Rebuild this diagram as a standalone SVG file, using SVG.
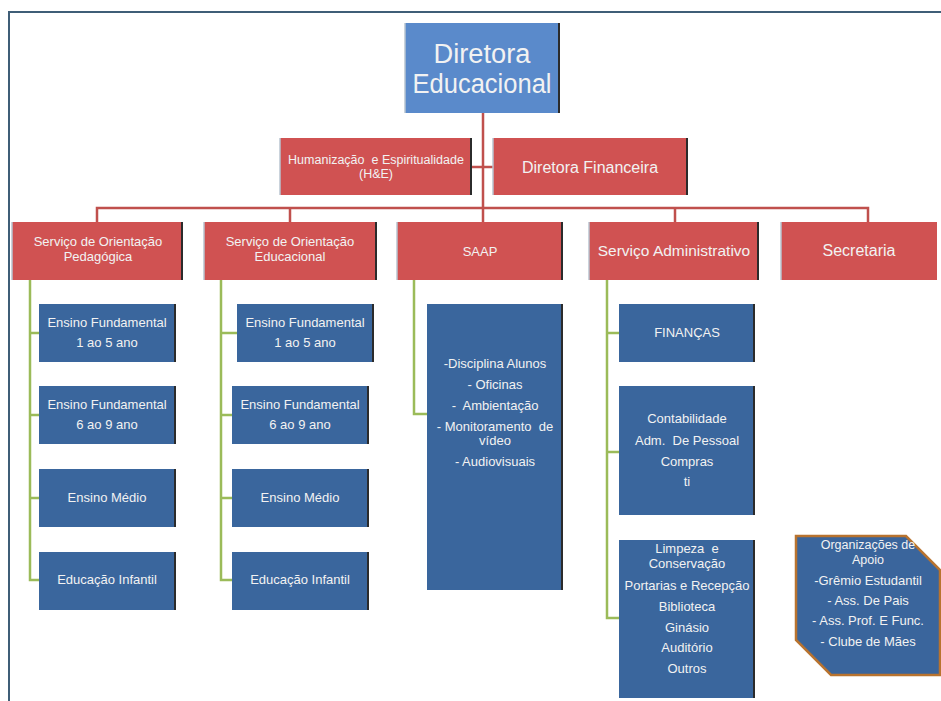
<svg xmlns="http://www.w3.org/2000/svg" width="941" height="701" viewBox="0 0 941 701">
  <style>
    .t { font-family: "Liberation Sans", Arial, sans-serif; fill: #f2f2f2; text-anchor: middle; }
    .top { fill: #5a8acb; }
    .red { fill: #d05252; }
    .blue { fill: #3a669d; }
    .edge { stroke: #2b2b2b; stroke-width: 2; }
    .ledge { stroke: #b8c4d0; stroke-width: 1.5; }
    .cr { fill: none; stroke: #c0504d; stroke-width: 2.5; }
    .cg { fill: none; stroke: #9bbb59; stroke-width: 2.5; }
  </style>

  <!-- page frame -->
  <path d="M9 701 V12 H941" fill="none" stroke="#3f5e77" stroke-width="2"/>

  <!-- connectors -->
  <g id="connectors">
    <path class="cr" d="M483 113 V208 M472 167 H493 M97 222 V208 H868 V222 M290 208 V222 M483 208 V222 M675 208 V222"/>
    <path class="cg" d="M30 280 V580 H39 M30 333 H39 M30 415 H39 M30 498 H39"/>
    <path class="cg" d="M221 280 V580 H232 M221 333 H237 M221 415 H232 M221 498 H232"/>
    <path class="cg" d="M414 280 V414 H427"/>
    <path class="cg" d="M607 280 V618 H619 M607 333 H619 M607 452 H619"/>
  </g>

  <!-- top level -->
  <g id="diretora-educacional">
    <rect class="top" x="405" y="23" width="155" height="90"/>
    <line class="ledge" x1="405" y1="23" x2="405" y2="113"/>
    <line class="edge" x1="559" y1="23" x2="559" y2="113"/>
    <text class="t" x="482" y="63" font-size="27" textLength="97" lengthAdjust="spacingAndGlyphs">Diretora</text>
    <text class="t" x="482" y="93" font-size="27" textLength="139" lengthAdjust="spacingAndGlyphs">Educacional</text>
  </g>

  <!-- second level -->
  <g id="humanizacao">
    <rect class="red" x="280" y="138" width="192" height="57"/>
    <line class="ledge" x1="280" y1="138" x2="280" y2="195"/>
    <line class="edge" x1="471" y1="138" x2="471" y2="195"/>
    <text class="t" x="376" y="164" font-size="12.5" xml:space="preserve">Humanização  e Espiritualidade</text>
    <text class="t" x="376" y="178" font-size="12.5">(H&amp;E)</text>
  </g>
  <g id="diretora-financeira">
    <rect class="red" x="493" y="138" width="195" height="57"/>
    <line class="ledge" x1="493" y1="138" x2="493" y2="195"/>
    <line class="edge" x1="687" y1="138" x2="687" y2="195"/>
    <text class="t" x="590" y="173" font-size="16">Diretora Financeira</text>
  </g>

  <!-- departments -->
  <g id="orientacao-pedagogica">
    <rect class="red" x="12" y="222" width="171" height="58"/>
    <line class="ledge" x1="12" y1="222" x2="12" y2="280"/>
    <line class="edge" x1="182" y1="222" x2="182" y2="280"/>
    <text class="t" x="98" y="246" font-size="13">Serviço de Orientação</text>
    <text class="t" x="98" y="261" font-size="13">Pedagógica</text>
  </g>
  <g id="orientacao-educacional">
    <rect class="red" x="204" y="222" width="173" height="58"/>
    <line class="ledge" x1="204" y1="222" x2="204" y2="280"/>
    <line class="edge" x1="376" y1="222" x2="376" y2="280"/>
    <text class="t" x="290" y="246" font-size="13">Serviço de Orientação</text>
    <text class="t" x="290" y="261" font-size="13">Educacional</text>
  </g>
  <g id="saap">
    <rect class="red" x="397" y="222" width="166" height="58"/>
    <line class="ledge" x1="397" y1="222" x2="397" y2="280"/>
    <line class="edge" x1="562" y1="222" x2="562" y2="280"/>
    <text class="t" x="480" y="256" font-size="13">SAAP</text>
  </g>
  <g id="servico-administrativo">
    <rect class="red" x="589" y="222" width="170" height="58"/>
    <line class="ledge" x1="589" y1="222" x2="589" y2="280"/>
    <line class="edge" x1="758" y1="222" x2="758" y2="280"/>
    <text class="t" x="674" y="256" font-size="15.5">Serviço Administrativo</text>
  </g>
  <g id="secretaria">
    <rect class="red" x="781" y="222" width="156" height="58"/>
    <line class="ledge" x1="781" y1="222" x2="781" y2="280"/>
    <text class="t" x="859" y="256" font-size="16">Secretaria</text>
  </g>

  <!-- Serviço de Orientação Pedagógica: units -->
  <g id="sop-ef1">
    <rect class="blue" x="39" y="304" width="137" height="58"/>
    <line class="edge" x1="175" y1="304" x2="175" y2="362"/>
    <text class="t" x="107" y="327" font-size="13">Ensino Fundamental</text>
    <text class="t" x="107" y="347" font-size="13">1 ao 5 ano</text>
  </g>
  <g id="sop-ef2">
    <rect class="blue" x="39" y="386" width="137" height="58"/>
    <line class="edge" x1="175" y1="386" x2="175" y2="444"/>
    <text class="t" x="107" y="409" font-size="13">Ensino Fundamental</text>
    <text class="t" x="107" y="429" font-size="13">6 ao 9 ano</text>
  </g>
  <g id="sop-em">
    <rect class="blue" x="39" y="469" width="137" height="58"/>
    <line class="edge" x1="175" y1="469" x2="175" y2="527"/>
    <text class="t" x="107" y="502" font-size="13">Ensino Médio</text>
  </g>
  <g id="sop-ei">
    <rect class="blue" x="39" y="552" width="137" height="58"/>
    <line class="edge" x1="175" y1="552" x2="175" y2="610"/>
    <text class="t" x="107" y="584" font-size="13">Educação Infantil</text>
  </g>

  <!-- Serviço de Orientação Educacional: units -->
  <g id="soe-ef1">
    <rect class="blue" x="237" y="304" width="137" height="58"/>
    <line class="edge" x1="373" y1="304" x2="373" y2="362"/>
    <text class="t" x="305" y="327" font-size="13">Ensino Fundamental</text>
    <text class="t" x="305" y="347" font-size="13">1 ao 5 ano</text>
  </g>
  <g id="soe-ef2">
    <rect class="blue" x="232" y="386" width="137" height="58"/>
    <line class="edge" x1="368" y1="386" x2="368" y2="444"/>
    <text class="t" x="300" y="409" font-size="13">Ensino Fundamental</text>
    <text class="t" x="300" y="429" font-size="13">6 ao 9 ano</text>
  </g>
  <g id="soe-em">
    <rect class="blue" x="232" y="469" width="137" height="58"/>
    <line class="edge" x1="368" y1="469" x2="368" y2="527"/>
    <text class="t" x="300" y="502" font-size="13">Ensino Médio</text>
  </g>
  <g id="soe-ei">
    <rect class="blue" x="232" y="552" width="137" height="58"/>
    <line class="edge" x1="368" y1="552" x2="368" y2="610"/>
    <text class="t" x="300" y="584" font-size="13">Educação Infantil</text>
  </g>

  <!-- SAAP: activities -->
  <g id="saap-atividades">
    <rect class="blue" x="427" y="304" width="136" height="286"/>
    <line class="edge" x1="562" y1="304" x2="562" y2="590"/>
    <text class="t" x="495" y="368" font-size="13">-Disciplina Alunos</text>
    <text class="t" x="495" y="389" font-size="13">- Oficinas</text>
    <text class="t" x="495" y="410" font-size="13" xml:space="preserve">-  Ambientação</text>
    <text class="t" x="495" y="431" font-size="13" xml:space="preserve">- Monitoramento  de</text>
    <text class="t" x="495" y="445" font-size="13">vídeo</text>
    <text class="t" x="495" y="466" font-size="13">- Audiovisuais</text>
  </g>

  <!-- Serviço Administrativo: sectors -->
  <g id="financas">
    <rect class="blue" x="619" y="304" width="136" height="58"/>
    <line class="edge" x1="754" y1="304" x2="754" y2="362"/>
    <text class="t" x="687" y="337" font-size="13">FINANÇAS</text>
  </g>
  <g id="contabilidade">
    <rect class="blue" x="619" y="386" width="136" height="129"/>
    <line class="edge" x1="754" y1="386" x2="754" y2="515"/>
    <text class="t" x="687" y="423" font-size="13">Contabilidade</text>
    <text class="t" x="687" y="445" font-size="13" xml:space="preserve">Adm.  De Pessoal</text>
    <text class="t" x="687" y="466" font-size="13">Compras</text>
    <text class="t" x="687" y="486" font-size="13">ti</text>
  </g>
  <g id="limpeza">
    <rect class="blue" x="619" y="540" width="136" height="158"/>
    <line class="edge" x1="754" y1="540" x2="754" y2="698"/>
    <text class="t" x="687" y="553" font-size="13" xml:space="preserve">Limpeza  e</text>
    <text class="t" x="687" y="568" font-size="13">Conservação</text>
    <text class="t" x="687" y="590" font-size="13">Portarias e Recepção</text>
    <text class="t" x="687" y="611" font-size="13">Biblioteca</text>
    <text class="t" x="687" y="632" font-size="13">Ginásio</text>
    <text class="t" x="687" y="652" font-size="13">Auditório</text>
    <text class="t" x="687" y="673" font-size="13">Outros</text>
  </g>

  <!-- support organisations -->
  <g id="organizacoes-apoio">
    <polygon points="796,536 906,536 940,570 940,675 831,675 796,640" fill="#3a659c" stroke="#b8732f" stroke-width="2.5"/>
    <text class="t" x="868" y="549" font-size="12.5">Organizações de</text>
    <text class="t" x="868" y="564" font-size="12.5">Apoio</text>
    <text class="t" x="868" y="585" font-size="13">-Grêmio Estudantil</text>
    <text class="t" x="868" y="605" font-size="13">- Ass. De Pais</text>
    <text class="t" x="868" y="625" font-size="13">- Ass. Prof. E Func.</text>
    <text class="t" x="868" y="646" font-size="13">- Clube de Mães</text>
  </g>
</svg>
